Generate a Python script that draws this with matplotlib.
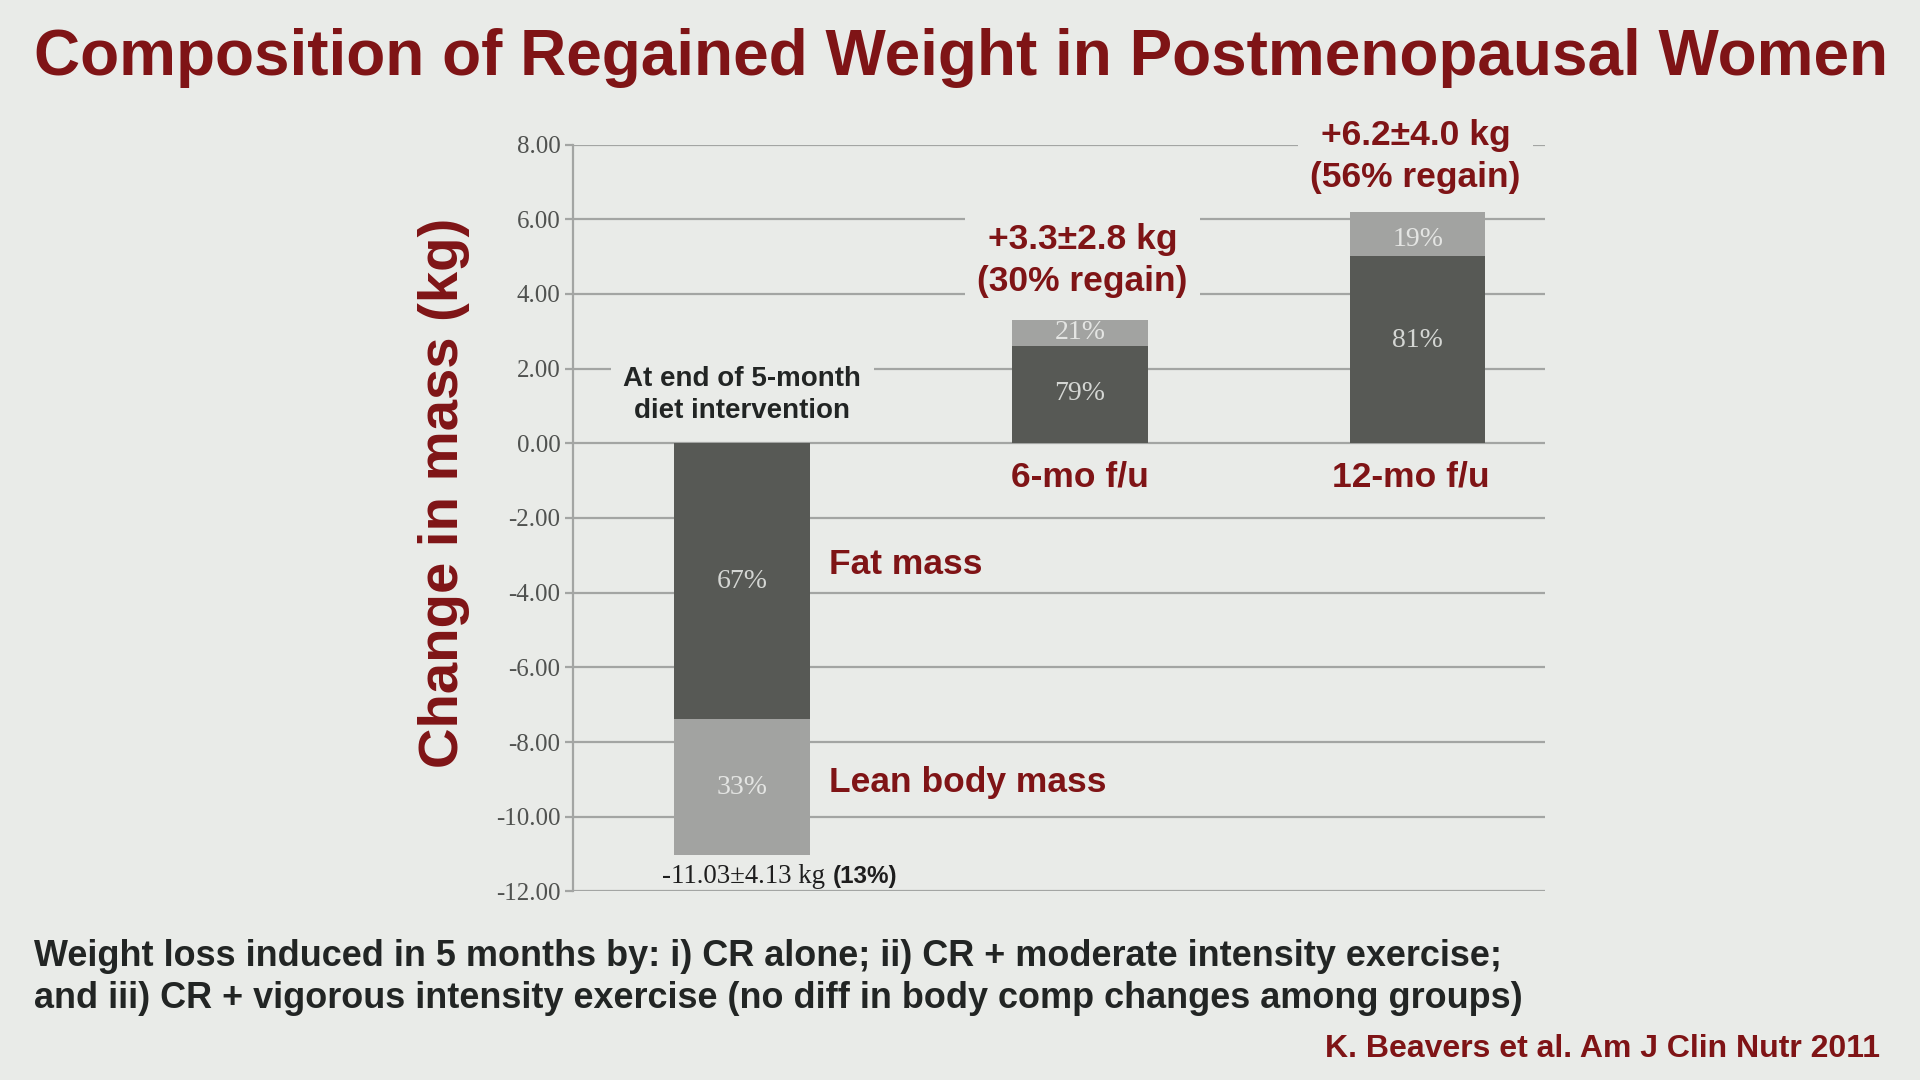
import matplotlib
matplotlib.use("Agg")
import matplotlib.pyplot as plt
import numpy as np

# ---------------- data ----------------
groups = ["At end of 5-month\ndiet intervention", "6-mo f/u", "12-mo f/u"]
fat_mass = [-7.39, 2.61, 5.02]
lean_mass = [-3.64, 0.69, 1.18]
fat_pct = ["67%", "79%", "81%"]
lean_pct = ["33%", "21%", "19%"]
totals_text = ["-11.03\u00b14.13 kg", "+3.3\u00b12.8 kg\n(30% regain)", "+6.2\u00b14.0 kg\n(56% regain)"]
yticks = [8, 6, 4, 2, 0, -2, -4, -6, -8, -10, -12]
ytick_labels = ["8.00", "6.00", "4.00", "2.00", "0.00", "-2.00", "-4.00", "-6.00", "-8.00", "-10.00", "-12.00"]

# ---------------- style ----------------
BG = "#e9ebe8"
RED = "#7f1416"
DARK = "#222524"
FAT_C = "#575955"
LEAN_C = "#a2a3a1"
GRID_C = "#a3a5a3"
SANS = ["Liberation Sans", "DejaVu Sans"]
SERIF = ["Liberation Serif", "DejaVu Serif"]

fig = plt.figure(figsize=(19.2, 10.8), dpi=100, facecolor=BG)
ax = fig.add_axes([0.2985, 0.1746, 0.5063, 0.6916])
ax.set_facecolor(BG)

x = np.arange(len(groups))
w = 0.4
ax.bar(x, fat_mass, width=w, color=FAT_C, zorder=2)
ax.bar(x, lean_mass, width=w, bottom=fat_mass, color=LEAN_C, zorder=2)

ax.set_xlim(-0.5, 2.377)
ax.set_ylim(-12, 8)
ax.set_yticks(yticks)
ax.set_yticklabels(ytick_labels, fontfamily=SERIF, fontsize=18, color="#505250")
ax.set_xticks([])
ax.yaxis.grid(True, color=GRID_C, linewidth=1.6, zorder=0)
ax.set_axisbelow(True)
ax.tick_params(axis="y", length=6, width=1.6, color=GRID_C, pad=3)
for s in ["top", "right", "bottom"]:
    ax.spines[s].set_visible(False)
ax.spines["left"].set_color(GRID_C)
ax.spines["left"].set_linewidth(1.6)

# percentages inside bars
fat_frac = [0.50, 0.51, 0.55]
for i in range(3):
    f = fat_mass[i]
    l = lean_mass[i]
    fy = f * fat_frac[i]
    ly = f + l * 0.5 - (0.15 if i == 2 else 0)
    ax.text(x[i], fy, fat_pct[i], ha="center", va="center", fontfamily=SERIF,
            fontsize=20, color="#d4d6d3", zorder=3)
    ax.text(x[i], ly, lean_pct[i], ha="center", va="center", fontfamily=SERIF,
            fontsize=20, color="#e4e5e3", zorder=3)

box = dict(facecolor=BG, edgecolor="none", pad=6)

# group annotations
ax.text(0, 1.28, groups[0], ha="center", va="center", fontfamily=SANS,
        fontsize=20, fontweight="bold", color=DARK, linespacing=1.3,
        bbox=dict(facecolor=BG, edgecolor="none", pad=9), zorder=4)
ax.text(1.0, -0.89, groups[1], ha="center", va="center", fontfamily=SANS,
        fontsize=25.5, fontweight="bold", color=RED, zorder=4)
ax.text(1.978, -0.89, groups[2], ha="center", va="center", fontfamily=SANS,
        fontsize=25.5, fontweight="bold", color=RED, zorder=4)

ax.text(1.007, 4.89, totals_text[1], ha="center", va="center", fontfamily=SANS,
        fontsize=25.5, fontweight="bold", color=RED, linespacing=1.35,
        bbox=dict(facecolor=BG, edgecolor="none", pad=9), zorder=4)
ax.text(1.993, 7.67, totals_text[2], ha="center", va="center", fontfamily=SANS,
        fontsize=25.5, fontweight="bold", color=RED, linespacing=1.35,
        bbox=dict(facecolor=BG, edgecolor="none", pad=9), zorder=4, clip_on=False)

# legend-like labels
ax.text(0.257, -3.25, "Fat mass", ha="left", va="center", fontfamily=SANS,
        fontsize=25.5, fontweight="bold", color=RED, bbox=box, zorder=4)
ax.text(0.257, -9.08, "Lean body mass", ha="left", va="center", fontfamily=SANS,
        fontsize=25.5, fontweight="bold", color=RED, bbox=box, zorder=4)

# total loss under first bar
t1 = ax.text(-0.236, -11.6, totals_text[0], ha="left", va="center", fontfamily=SERIF,
             fontsize=19.3, color="#1e1e1e", zorder=4)
ax.annotate("(13%)", xy=(1, 0.5), xycoords=t1, xytext=(5, 0), textcoords="offset points",
            ha="left", va="center", fontfamily=SANS, fontsize=17.5,
            fontweight="bold", color="#1e1e1e")

# figure texts
fig.text(0.0179, 0.946, "Composition of Regained Weight in Postmenopausal Women",
         ha="left", va="center", fontfamily=SANS, fontsize=46, fontweight="bold", color=RED)
fig.text(0.2315, 0.5437, "Change in mass (kg)", rotation=90, ha="center", va="center",
         fontfamily=SANS, fontsize=40.5, fontweight="bold", color=RED)
fig.text(0.0179, 0.1148,
         "Weight loss induced in 5 months by: i) CR alone; ii) CR + moderate intensity exercise;",
         ha="left", va="center", fontfamily=SANS, fontsize=25.9, fontweight="bold", color=DARK)
fig.text(0.0179, 0.0751,
         "and iii) CR + vigorous intensity exercise (no diff in body comp changes among groups)",
         ha="left", va="center", fontfamily=SANS, fontsize=25.9, fontweight="bold", color=DARK)
fig.text(0.979, 0.0283, "K. Beavers et al. Am J Clin Nutr 2011", ha="right", va="center",
         fontfamily=SANS, fontsize=23, fontweight="bold", color=RED)

fig.savefig("out.png", dpi=100, facecolor=BG)
